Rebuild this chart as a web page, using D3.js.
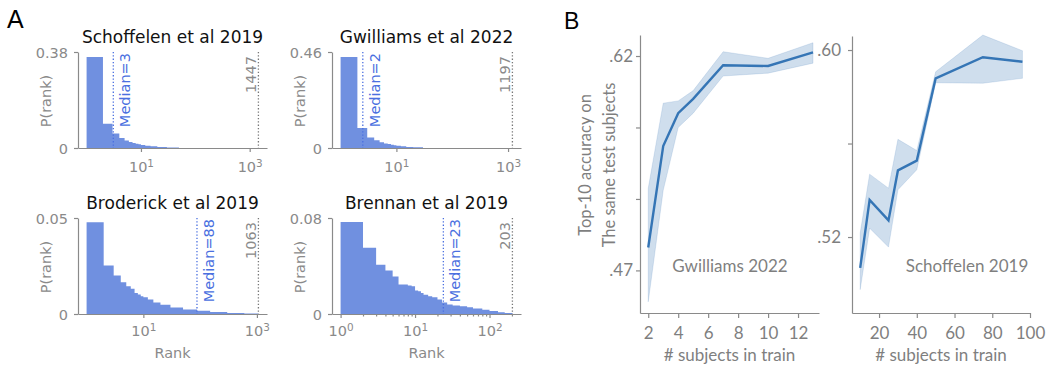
<!DOCTYPE html>
<html>
<head>
<meta charset="utf-8">
<script src="https://cdn.jsdelivr.net/npm/d3@7"></script>
<style>
  body { margin: 0; background: #fff; }
  text { font-family: "DejaVu Sans", sans-serif; }
  .b text { font-family: Lato, "Open Sans", sans-serif; }
</style>
</head>
<body>
<div id="vis"></div>
<script>
// ---- panel A: rank histograms ----
const histTitles = ['Schoffelen et al 2019', 'Gwilliams et al 2022', 'Broderick et al 2019', 'Brennan et al 2019'];
const histYMax = [0.38, 0.46, 0.05, 0.08];
const histYLabels = ['0.38', '0.46', '0.05', '0.08'];
const histMedian = [3, 2, 88, 23];
const histMedianAt = [3.1, 2.5, 88, 24];
const histTotal = [1447, 1197, 1063, 203];

const schoffelenEdges = [1, 2, 3, 4, 5, 6, 7, 8, 9, 10, 12, 15, 20, 30, 50];
const schoffelenP = [0.360, 0.096, 0.057, 0.040, 0.030, 0.024, 0.020, 0.017, 0.0145, 0.012, 0.009, 0.0066, 0.004, 0.0018];
const gwilliamsEdges = [1, 2, 3, 4, 5, 6, 7, 8, 9, 10, 12, 15, 20, 30];
const gwilliamsP = [0.436, 0.096, 0.050, 0.037, 0.027, 0.022, 0.019, 0.016, 0.013, 0.011, 0.008, 0.005, 0.003];
const broderickEdges = [1, 2, 3, 4, 5, 6, 7, 8, 9, 10, 12, 15, 20, 30, 50, 88, 150, 300, 600, 1063];
const broderickP = [0.0478, 0.0253, 0.0200, 0.0166, 0.0145, 0.0131, 0.0110, 0.0101, 0.0092, 0.0087, 0.0075, 0.0060, 0.0048, 0.0034, 0.0024, 0.0017, 0.0010, 0.0005, 0.0002];
const brennanEdges = [1, 2, 3, 4, 5, 6, 7, 8, 9, 10, 11, 12, 13, 15, 17, 20, 23, 27, 32, 40, 50, 60, 80, 100, 130, 160, 203];
const brennanP = [0.0767, 0.0552, 0.041, 0.0362, 0.0312, 0.0245, 0.0245, 0.0237, 0.0232, 0.0195, 0.019, 0.0176, 0.016, 0.0148, 0.014, 0.012, 0.0095, 0.008, 0.007, 0.0064, 0.0056, 0.0045, 0.0035, 0.0024, 0.0015, 0.0008];

const histEdges = [schoffelenEdges, gwilliamsEdges, broderickEdges, brennanEdges];
const histP = [schoffelenP, gwilliamsP, broderickP, brennanP];
const histXTicks = [[10, 1000], [10, 1000], [10, 1000], [1, 10, 100]];

// ---- panel B: accuracy vs # subjects ----
const gwTrain = [2, 3, 4, 5, 7, 10, 13];
const gwMean = [0.486, 0.557, 0.580, 0.590, 0.6135, 0.613, 0.6226];
const gwLow = [0.448, 0.526, 0.570, 0.580, 0.606, 0.608, 0.615];
const gwHigh = [0.5275, 0.587, 0.5886, 0.5958, 0.623, 0.6184, 0.6293];
const gwYTicks = [0.47, 0.52, 0.57, 0.62];
const gwYLabelled = [0.47, 0.62];
const gwXTicks = [2, 4, 6, 8, 10, 12];

const scTrain = [10, 15, 25, 30, 40, 50, 75, 96];
const scMean = [0.5068, 0.5359, 0.5271, 0.5485, 0.5527, 0.5879, 0.5969, 0.595];
const scLow = [0.4975, 0.5238, 0.5157, 0.5402, 0.5488, 0.586, 0.5858, 0.5879];
const scHigh = [0.5217, 0.5469, 0.5409, 0.5618, 0.557, 0.5907, 0.6064, 0.5997];
const scYTicks = [0.52, 0.56, 0.60];
const scYLabelled = [0.52, 0.60];
const scXTicks = [20, 40, 60, 80, 100];

const grey = '#8a8a8a', histColor = '#7090e0', medColor = '#4a6fe0';
const lineColor = '#3575b5';

const svg = d3.select('#vis').append('svg').attr('width', 1047).attr('height', 365);

svg.append('text').attr('x', 7).attr('y', 28).attr('font-size', 25).attr('fill', '#000')
    .style('font-family', 'Liberation Sans, Arial, sans-serif').text('A');
svg.append('text').attr('x', 564).attr('y', 29).attr('font-size', 23).attr('fill', '#000')
    .style('font-family', 'Liberation Sans, Arial, sans-serif').text('B');

const cellX = [78, 332], cellY = [52, 218], cellW = 189, cellH = 96;

function styleAxis(g) {
    g.selectAll('path.domain').attr('stroke', grey).attr('stroke-width', 1.2);
    g.selectAll('.tick line').attr('stroke', grey).attr('stroke-width', 1.2);
    g.selectAll('.tick text').attr('fill', grey);
}

histTitles.forEach((title, i) => {
    let x0 = cellX[i % 2], y0 = cellY[Math.floor(i / 2)];
    let bottomRow = i >= 2;
    let L = Math.log10(histTotal[i]);
    let x = d3.scaleLog().domain([Math.pow(10, -0.05 * L), Math.pow(10, 1.05 * L)]).range([x0, x0 + cellW]);
    let y = d3.scaleLinear().domain([0, histYMax[i]]).range([y0 + cellH, y0]);
    let g = svg.append('g').attr('font-size', 14.5);

    let edges = histEdges[i], p = histP[i];
    let pts = edges.map((e, k) => ({ e: e, p: k < p.length ? p[k] : p[p.length - 1] }));
    let area = d3.area().curve(d3.curveStepAfter)
        .x(d => x(d.e)).y0(y(0)).y1(d => y(d.p));
    g.append('path').attr('d', area(pts)).attr('fill', histColor);

    // median and total lines
    g.append('line').attr('x1', x(histMedianAt[i])).attr('x2', x(histMedianAt[i]))
        .attr('y1', y0).attr('y2', y0 + cellH)
        .attr('stroke', medColor).attr('stroke-width', 1.3).attr('stroke-dasharray', '1.3,2');
    g.append('text')
        .attr('transform', `translate(${x(histMedianAt[i]) + 17},${y0 + 1}) rotate(-90)`)
        .attr('text-anchor', 'end').attr('fill', medColor).text('Median=' + histMedian[i]);
    g.append('line').attr('x1', x(histTotal[i])).attr('x2', x(histTotal[i]))
        .attr('y1', y0).attr('y2', y0 + cellH)
        .attr('stroke', '#777').attr('stroke-width', 1.3).attr('stroke-dasharray', '1.3,2');
    g.append('text')
        .attr('transform', `translate(${x(histTotal[i]) - 2},${y0 + 4}) rotate(-90)`)
        .attr('text-anchor', 'end').attr('fill', grey).text(histTotal[i]);

    // axes
    let ya = g.append('g').attr('transform', `translate(${x0},0)`)
        .call(d3.axisLeft(y).tickValues([0, histYMax[i]]).tickSize(4).tickSizeOuter(0).tickPadding(6)
            .tickFormat((d, k) => k === 0 ? '0' : histYLabels[i]))
        .attr('font-size', 14.5).attr('font-family', null);
    styleAxis(ya);
    ya.selectAll('.tick text').attr('dy', '0.36em');

    let xa = g.append('g').attr('transform', `translate(0,${y0 + cellH})`)
        .call(d3.axisBottom(x).tickValues(histXTicks[i]).tickSize(4).tickSizeOuter(0).tickFormat(''))
        .attr('font-size', 14.5).attr('font-family', null);
    styleAxis(xa);
    xa.selectAll('.tick text').each(function (d) {
        let t = d3.select(this).text(null).attr('y', bottomRow ? 22 : 24).attr('dy', 0);
        t.append('tspan').text('10');
        t.append('tspan').attr('dy', '-0.5em').attr('font-size', '0.72em').text(Math.round(Math.log10(d)));
    });
    if (i === 3) {
        let minor = [];
        [1, 10, 100].forEach(b => d3.range(2, 10).forEach(m => { if (b * m < x.domain()[1]) minor.push(b * m); }));
        let xm = g.append('g').attr('transform', `translate(0,${y0 + cellH})`)
            .call(d3.axisBottom(x).tickValues(minor).tickSize(2.5).tickSizeOuter(0).tickFormat(''));
        xm.select('path.domain').remove();
        styleAxis(xm);
    }

    g.append('text').attr('x', x0 + cellW / 2).attr('y', y0 - 9).attr('text-anchor', 'middle')
        .attr('font-size', 17).attr('fill', '#111').text(title);
    g.append('text').attr('transform', `translate(${x0 - 27},${y0 + cellH / 2 + 1}) rotate(-90)`)
        .attr('text-anchor', 'middle').attr('fill', grey).text('P(rank)');
    if (bottomRow) {
        g.append('text').attr('x', x0 + cellW / 2).attr('y', 358).attr('text-anchor', 'middle')
            .attr('fill', grey).text('Rank');
    }
});

// ---- panel B ----
function drawB(opt) {
    let x = d3.scaleLinear().domain(opt.xDom).range(opt.xRange);
    let y = d3.scaleLinear().domain(opt.yDom).range([313, opt.yTop]);
    let g = svg.append('g').attr('class', 'b');
    let pts = opt.train.map((t, k) => ({ t: t, m: opt.mean[k], lo: opt.low[k], hi: opt.high[k] }));
    g.append('path').attr('d', d3.area().x(d => x(d.t)).y0(d => y(d.lo)).y1(d => y(d.hi))(pts))
        .attr('fill', lineColor).attr('fill-opacity', 0.24)
        .attr('stroke', lineColor).attr('stroke-opacity', 0.15);
    g.append('path').attr('d', d3.line().x(d => x(d.t)).y(d => y(d.m))(pts))
        .attr('fill', 'none').attr('stroke', lineColor).attr('stroke-width', 2.4);

    let ya = g.append('g').attr('transform', `translate(${opt.xRange[0]},0)`)
        .call(d3.axisLeft(y).tickValues(opt.yTicks).tickSize(4).tickSizeOuter(0).tickPadding(opt.yPad)
            .tickFormat(d => opt.yLabelled.includes(d) ? d3.format('.2f')(d).replace(/^0/, '') : ''))
        .attr('font-size', 17).attr('font-family', null);
    styleAxis(ya);
    ya.selectAll('.tick text').attr('fill', '#7f7f7f');
    let xa = g.append('g').attr('transform', 'translate(0,313)')
        .call(d3.axisBottom(x).tickValues(opt.xTicks).tickSize(5).tickSizeOuter(0).tickPadding(9))
        .attr('font-size', 17).attr('font-family', null);
    styleAxis(xa);
    xa.selectAll('.tick text').attr('fill', '#7f7f7f');

    g.append('text').attr('x', (opt.xRange[0] + opt.xRange[1]) / 2).attr('y', 361)
        .attr('text-anchor', 'middle').attr('font-size', 17).attr('fill', '#7f7f7f').text('# subjects in train');
    g.append('text').attr('x', opt.noteX).attr('y', 272)
        .attr('text-anchor', 'middle').attr('font-size', 17).attr('fill', '#7f7f7f').text(opt.note);
    return g;
}

let gb = drawB({ train: gwTrain, mean: gwMean, low: gwLow, high: gwHigh,
    xDom: [1.45, 13.4], xRange: [640, 819], yDom: [0.4402, 0.6347], yTop: 35,
    yTicks: gwYTicks, yLabelled: gwYLabelled, xTicks: gwXTicks, yPad: 3,
    note: 'Gwilliams 2022', noteX: 730 });
drawB({ train: scTrain, mean: scMean, low: scLow, high: scHigh,
    xDom: [5.66, 100], xRange: [852, 1030], yDom: [0.4875, 0.606], yTop: 36,
    yTicks: scYTicks, yLabelled: scYLabelled, xTicks: scXTicks, yPad: 7,
    note: 'Schoffelen 2019', noteX: 967 });

gb.append('text').attr('transform', 'translate(591,165) rotate(-90)').attr('text-anchor', 'middle')
    .attr('font-size', 16.5).attr('fill', '#7f7f7f').text('Top-10 accuracy on');
gb.append('text').attr('transform', 'translate(615,165) rotate(-90)').attr('text-anchor', 'middle')
    .attr('font-size', 16.5).attr('fill', '#7f7f7f').text('The same test subjects');
</script>
</body>
</html>
